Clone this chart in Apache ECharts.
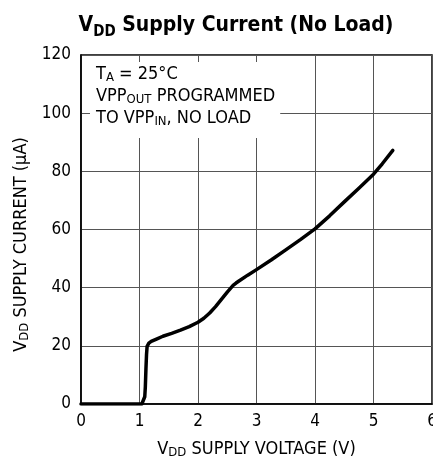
<!DOCTYPE html>
<html>
<head>
<meta charset="utf-8">
<script src="https://cdn.jsdelivr.net/npm/echarts@6/dist/echarts.min.js"></script>
<style>
  html, body { margin: 0; padding: 0; background: #fff; }
  #chart { width: 433px; height: 462px; }
</style>
</head>
<body>
<div id="chart"></div>
<script>
// VDD supply voltage (V)
const voltage = [0, 1.04, 1.07, 1.09, 1.10, 1.11, 1.12, 1.13, 1.16, 1.2, 1.3, 1.4, 1.55, 1.7, 1.85, 2.0, 2.1, 2.2, 2.3, 2.4, 2.5, 2.6, 2.65, 2.7, 2.85, 3.0, 3.25, 3.5, 3.75, 4.0, 4.25, 4.5, 4.75, 5.0, 5.15, 5.33];
// VDD supply current (uA)
const current = [0, 0, 0.5, 2.5, 6, 12, 17, 19.8, 20.9, 21.5, 22.4, 23.3, 24.3, 25.4, 26.6, 28.1, 29.5, 31.3, 33.5, 36, 38.5, 40.8, 41.6, 42.3, 44.3, 46.2, 49.5, 53, 56.5, 60.2, 64.7, 69.5, 74.2, 79, 82.6, 87.2];
const xTicks = [0, 1, 2, 3, 4, 5, 6];
const yTicks = [0, 20, 40, 60, 80, 100, 120];

const FONT = "'Liberation Sans Narrow', 'DejaVu Sans Condensed', 'Liberation Sans', sans-serif";

const chart = echarts.init(document.getElementById('chart'));

const txt = { fontFamily: FONT, fontSize: 18, fontWeight: 'normal', color: '#000' };
const sub = { fontFamily: FONT, fontSize: 13, fontWeight: 'normal', color: '#000', padding: [0, 0, -7, 0] };

const option = {
  animation: false,
  backgroundColor: '#fff',
  textStyle: { fontFamily: FONT },
  title: [
    {
      // main title with subscript
      text: '{v|V}{s|DD}{v| Supply Current (No Load)}',
      left: 231,
      textAlign: 'center',
      top: 8,
      textStyle: {
        rich: {
          v: { fontFamily: FONT, fontSize: 21, fontWeight: 'bold', color: '#000', verticalAlign: 'bottom', height: 26 },
          s: { fontFamily: FONT, fontSize: 15, fontWeight: 'bold', color: '#000', verticalAlign: 'bottom', height: 20, padding: [0, 0, -3, 0] }
        }
      }
    },
    {
      // conditions box, white background hides the grid behind it
      text: '{t|T}{b|A}{t| = 25°C}\n{t|VPP}{b|OUT}{t| PROGRAMMED}\n{t|TO VPP}{b|IN}{t|, NO LOAD}',
      left: 90,
      top: 62,
      padding: [1, 5, 9, 6],
      backgroundColor: '#fff',
      textStyle: {
        fontWeight: 'normal',
        lineHeight: 22,
        rich: {
          t: Object.assign({ lineHeight: 22 }, txt),
          b: Object.assign({ lineHeight: 22 }, sub)
        }
      },
      z: 10
    }
  ],
  grid: {
    left: 81,
    right: 1,
    top: 55,
    bottom: 58,
    show: true,
    borderColor: '#000',
    borderWidth: 1.5,
    containLabel: false,
    outerBoundsMode: 'none'
  },
  xAxis: {
    type: 'value',
    min: xTicks[0],
    max: xTicks[xTicks.length - 1],
    interval: 1,
    name: '{t|V}{b|DD}{t| SUPPLY VOLTAGE (V)}',
    nameLocation: 'middle',
    nameGap: 36,
    nameTextStyle: { rich: { t: txt, b: sub } },
    axisLine: { show: true, lineStyle: { color: '#000', width: 1.5 } },
    axisTick: { show: false },
    axisLabel: { color: '#000', fontSize: 17, fontFamily: FONT, margin: 9 },
    splitLine: { show: true, lineStyle: { color: '#555', width: 1 } }
  },
  yAxis: {
    type: 'value',
    min: yTicks[0],
    max: yTicks[yTicks.length - 1],
    interval: 20,
    name: '{t|V}{b|DD}{t| SUPPLY CURRENT (µA)}',
    nameLocation: 'middle',
    nameGap: 49,
    nameTextStyle: { rich: { t: txt, b: sub }, padding: [0, 30, 0, 0] },
    axisLine: { show: true, lineStyle: { color: '#000', width: 1.5 } },
    axisTick: { show: false },
    axisLabel: { color: '#000', fontSize: 17, fontFamily: FONT, margin: 10 },
    splitLine: { show: true, lineStyle: { color: '#555', width: 1 } }
  },
  series: [
    {
      type: 'line',
      data: voltage.map((v, i) => [v, current[i]]),
      showSymbol: false,
      smooth: false,
      lineStyle: { color: '#000', width: 3.5, join: 'round', cap: 'round' },
      z: 5
    }
  ]
};

chart.setOption(option);
</script>
</body>
</html>
